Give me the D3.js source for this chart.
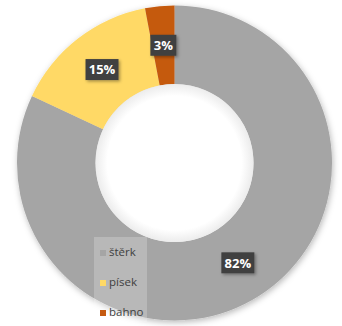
<!DOCTYPE html>
<html><head><meta charset="utf-8">
<script src="https://cdn.jsdelivr.net/npm/d3@7"></script>
<style>html,body{margin:0;padding:0;background:#fff;}svg{display:block;}</style>
</head><body>
<script>
const categories = ["štěrk", "písek", "bahno"];
const values = [82, 15, 3];
const labels = ["82%", "15%", "3%"];
const colors = ["#a5a5a5", "#ffd966", "#c55a11"];

const W = 342, H = 326, cx = 174.5, cy = 163, rOuter = 157.5, rInner = 79;
const svg = d3.select("body").append("svg").attr("width", W).attr("height", H);
const defs = svg.append("defs");
const f = defs.append("filter").attr("id","sh").attr("x","-20%").attr("y","-20%").attr("width","140%").attr("height","140%");
f.append("feDropShadow").attr("dx",1).attr("dy",2).attr("stdDeviation",3).attr("flood-color","#000").attr("flood-opacity",0.28);
const f2 = defs.append("filter").attr("id","lsh").attr("x","-30%").attr("y","-30%").attr("width","160%").attr("height","160%");
f2.append("feDropShadow").attr("dx",1.5).attr("dy",1.5).attr("stdDeviation",1.5).attr("flood-color","#000").attr("flood-opacity",0.35);
const rg = defs.append("radialGradient").attr("id","hole");
rg.append("stop").attr("offset","85%").attr("stop-color","#fff");
rg.append("stop").attr("offset","100%").attr("stop-color","#ececec");

const pie = d3.pie().sort(null).value(d => d)(values);
const arc = d3.arc().innerRadius(rInner).outerRadius(rOuter);
const g = svg.append("g").attr("transform", `translate(${cx},${cy})`);
g.append("g").attr("filter","url(#sh)").selectAll("path").data(pie).join("path")
  .attr("d", arc).attr("fill", (d,i) => colors[i]);
g.append("circle").attr("r", rInner).attr("fill","url(#hole)");

// legend
const lg = svg.append("g");
lg.append("rect").attr("x",94).attr("y",237).attr("width",53).attr("height",85).attr("fill","#fff").attr("opacity",0.22);
const ly = d3.scalePoint().domain(categories).range([256, 316]);
categories.forEach((c,i) => {
  lg.append("rect").attr("x",100).attr("y",ly(c)-6).attr("width",6).attr("height",6).attr("fill",colors[i]);
  lg.append("text").attr("x",109).attr("y",ly(c)).attr("font-family","Open Sans, sans-serif").attr("font-size",11.5).attr("fill","#404040").text(c);
});

// data labels
const lab = g.append("g");
pie.forEach((d,i) => {
  const [x,y] = arc.centroid(d);
  const t = lab.append("g").attr("transform",`translate(${x},${y})`);
  const bw = labels[i].length > 2 ? 33 : 26, bh = 21;
  t.append("rect").attr("x",-bw/2).attr("y",-bh/2).attr("width",bw).attr("height",bh).attr("fill","#404040").attr("filter","url(#lsh)");
  t.append("text").attr("text-anchor","middle").attr("dy","0.36em").attr("font-family","Open Sans, sans-serif").attr("font-weight","bold").attr("font-size",13).attr("fill","#fff").text(labels[i]);
});
</script>
</body></html>
